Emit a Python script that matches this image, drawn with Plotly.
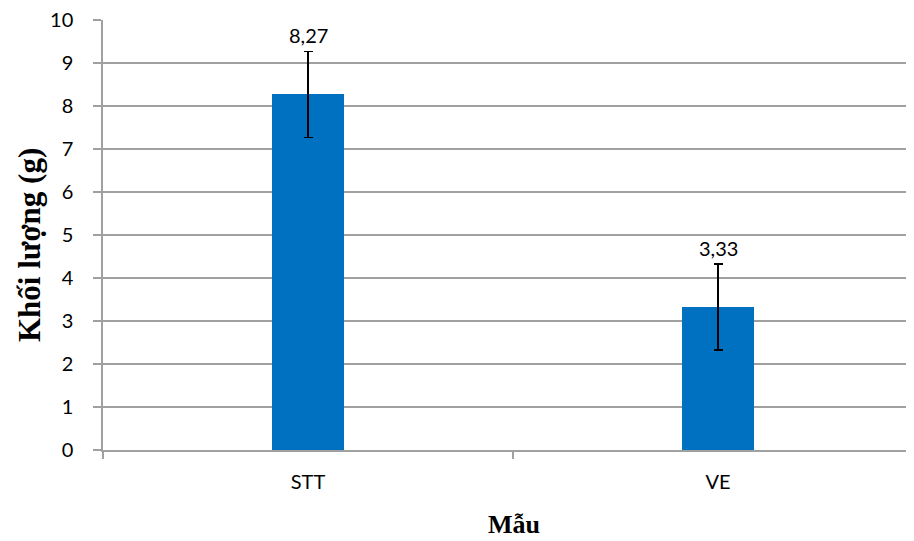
import plotly.graph_objects as go

categories = ["STT", "VE"]
values = [8.27, 3.33]
errors = [1.0, 1.0]
value_labels = ["8,27", "3,33"]
y_ticks = list(range(0, 11))

# page offset of the figure (default body margin) is 8 px
PL, PR, PT, PB = 103, 914, 20, 450
PW, PH = PR - PL, PB - PT
SANS = "Lato, Liberation Sans, Arial"

fig = go.Figure()
fig.add_trace(go.Bar(
    x=categories, y=values, width=0.178,
    marker=dict(color="#0070C0", line=dict(width=0)),
    error_y=dict(type="data", array=errors, visible=True, color="black", thickness=1.6, width=4.5),
    showlegend=False,
))
for c, v, e, t in zip(categories, values, errors, value_labels):
    fig.add_annotation(x=c, y=v + e, text=t, showarrow=False, yanchor="bottom", yshift=2,
                       font=dict(family=SANS, size=20, color="black"))

fig.update_layout(
    width=906, height=533,
    margin=dict(l=PL - 8, r=0, t=PT - 8, b=533 - (PB - 8)),
    plot_bgcolor="white", paper_bgcolor="white",
    bargap=0,
)
fig.update_xaxes(
    type="category", range=[-0.5, -0.5 + PW / 410],
    showgrid=False, showline=True, linecolor="#A0A0A0", linewidth=1.5,
    ticks="outside", tickson="boundaries", ticklen=7, tickcolor="#A0A0A0", tickwidth=1.5,
    tickfont=dict(family=SANS, size=20, color="black"),
    ticklabelstandoff=13,
)
fig.update_yaxes(
    range=[0, 10], tickvals=y_ticks, showgrid=True, gridcolor="#A0A0A0", gridwidth=1.5,
    showline=True, linecolor="#A0A0A0", linewidth=1.5, zeroline=False,
    ticks="outside", ticklen=8, tickcolor="#A0A0A0", tickwidth=1.5,
    tickfont=dict(family=SANS, size=20, color="black"),
    ticklabelstandoff=16, ticklabeloverflow="allow",
)
fig.add_annotation(xref="paper", yref="paper", x=(29 - PL) / PW, y=(PB - 245) / PH,
                   text="<b>Khối lượng (g)</b>",
                   textangle=-90, showarrow=False, xanchor="center", yanchor="middle",
                   font=dict(family="Liberation Serif, Times New Roman", size=31, color="black"))
fig.add_annotation(xref="paper", yref="paper", x=(514 - PL) / PW, y=(PB - 524) / PH, text="<b>Mẫu</b>",
                   showarrow=False, xanchor="center", yanchor="middle",
                   font=dict(family="Liberation Serif, Times New Roman", size=26, color="black"))

fig.write_html("out.html")
